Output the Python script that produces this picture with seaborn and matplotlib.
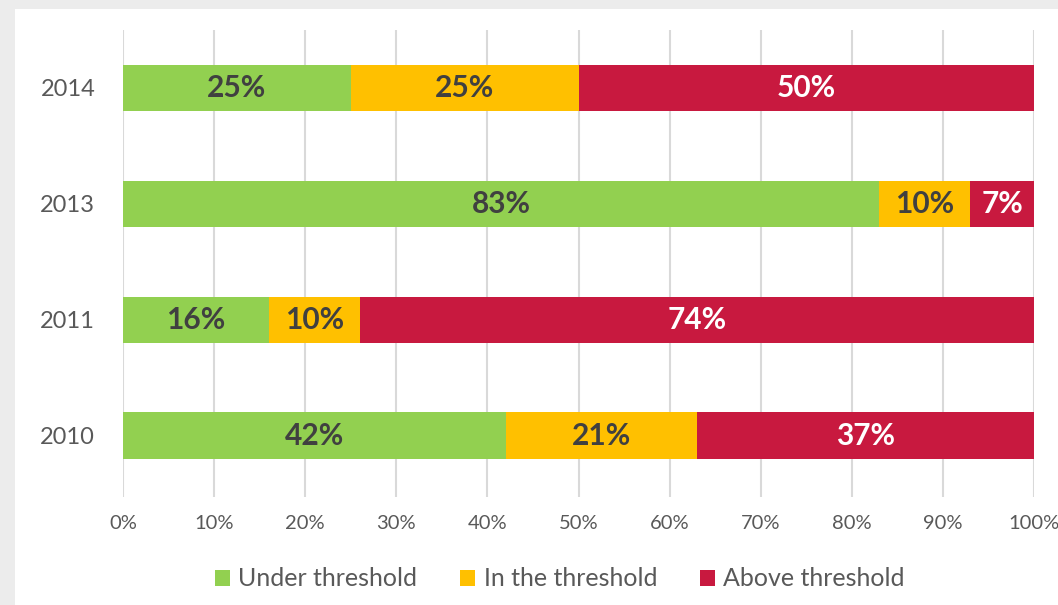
import matplotlib
matplotlib.use("Agg")
import matplotlib.pyplot as plt
from matplotlib.patches import Patch, Rectangle
import seaborn as sns
import pandas as pd
import numpy as np

years = ["2014", "2013", "2011", "2010"]
under = [25, 83, 16, 42]
inside = [25, 10, 10, 21]
above = [50, 7, 74, 37]
series_names = ["Under threshold", "In the threshold", "Above threshold"]
colors = ["#92D050", "#FFC000", "#C8193F"]
label_colors = ["#404040", "#404040", "#FFFFFF"]
xticks = [0, 10, 20, 30, 40, 50, 60, 70, 80, 90, 100]

sns.set_theme(style="white")
plt.rcParams["font.family"] = ["Lato", "DejaVu Sans"]

fig = plt.figure(figsize=(10.58, 6.05), dpi=100)
fig.patch.set_facecolor("#ECECEC")
fig.patches.append(Rectangle((15 / 1058, 0), 1, 1 - 9 / 605, transform=fig.transFigure,
                             facecolor="white", edgecolor="none", zorder=-10))
ax = fig.add_axes([123 / 1058, 1 - 497 / 605, (1034 - 123) / 1058, (497 - 30) / 605])
ax.set_facecolor("none")

df = pd.DataFrame({"year": years, "under": under, "inside": inside, "above": above})
df["c1"] = df["under"]
df["c2"] = df["under"] + df["inside"]
df["c3"] = df["under"] + df["inside"] + df["above"]

for col, color in zip(["c3", "c2", "c1"], colors[::-1]):
    sns.barplot(data=df, x=col, y="year", order=years, color=color, orient="h",
                width=0.4, saturation=1, ax=ax, zorder=3, linewidth=0)

vals = [under, inside, above]
for i in range(len(years)):
    start = 0
    for s in range(3):
        v = vals[s][i]
        ax.text(start + v / 2, i, f"{v}%", ha="center", va="center",
                fontsize=21.5, fontweight="bold", color=label_colors[s], zorder=5)
        start += v

ax.set_xlim(0, 100)
ax.set_ylim(3.53, -0.5)
ax.set_xticks(xticks)
ax.set_xticklabels([f"{t}%" for t in xticks])
ax.set_xlabel("")
ax.set_ylabel("")
ax.grid(axis="x", color="#D9D9D9", linewidth=1.5, zorder=0)
ax.grid(axis="y", visible=False)
ax.set_axisbelow(True)
for sp in ax.spines.values():
    sp.set_visible(False)
ax.tick_params(axis="x", length=0, pad=13, labelsize=14.5, labelcolor="#595959")
ax.tick_params(axis="y", length=0, pad=20, labelsize=17, labelcolor="#595959")

handles = [Patch(facecolor=c, edgecolor="none") for c in colors]
fig.legend(handles, series_names, loc="center", bbox_to_anchor=(0.529, 0.043), ncol=3,
           frameon=False, fontsize=18, labelcolor="#595959", handlelength=0.6,
           handleheight=0.6, handletextpad=0.35, columnspacing=1.7)

fig.savefig("out.png", dpi=100, facecolor=fig.get_facecolor())
